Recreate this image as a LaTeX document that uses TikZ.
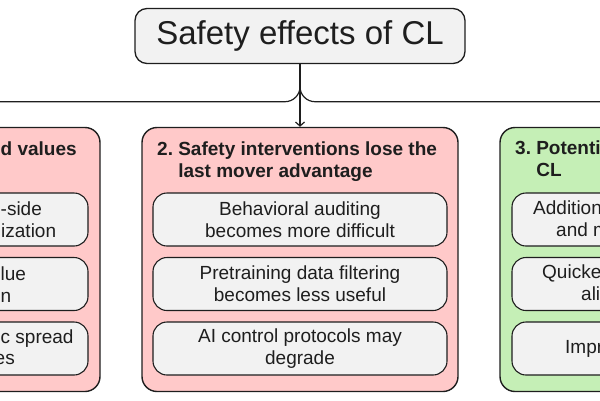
\documentclass[tikz,border=0pt]{standalone}
\usepackage{fontspec}
\setmainfont{Liberation Sans}
\usetikzlibrary{arrows.meta,positioning}
\definecolor{boxgray}{HTML}{F2F2F2}
\definecolor{riskpink}{HTML}{FFC9C9}
\definecolor{gainlime}{HTML}{C5EFB6}
\definecolor{inkline}{HTML}{1E1E1E}
\tikzset{
  sfx/.style={x=1pt, y=-1pt, >={Straight Barb[length=4pt,width=9pt]},
              every node/.style={inner sep=0pt, text=inkline, font=\fontsize{19}{22}\selectfont}},
  rootbox/.style={draw=inkline, line width=1.3pt, rounded corners=12pt, fill=boxgray,
                  minimum width=330pt, minimum height=55pt, font=\fontsize{33}{38}\selectfont},
  group/.style={draw=inkline, line width=1.4pt, rounded corners=15pt, minimum width=316pt, minimum height=264pt},
  item/.style={draw=inkline, line width=1.1pt, rounded corners=14pt, fill=boxgray,
               minimum width=294pt, minimum height=53pt, align=center},
  gtitle/.style={anchor=base west, font=\fontsize{19}{22}\selectfont\bfseries},
  cutl/.style={anchor=base east},
  cutr/.style={anchor=base west},
  link/.style={->, draw=inkline, line width=1.2pt, rounded corners=15pt}
}

\begin{document}
\begin{tikzpicture}[sfx]
\useasboundingbox (0,0) rectangle (600,400);
\clip (0,0) rectangle (600,400);

\node[rootbox] (root) at (300,36) {Safety effects of CL};

% the three groups
\node[group, fill=riskpink] (g1) at (-58,259.5) {};
\node[group, fill=riskpink] (g2) at (300,259.5) {};
\node[group, fill=gainlime] (g3) at (658,259.5) {};

\node[gtitle] (t1) at (0.5,155) {d values};
\node[gtitle] (t2) at (157,155) {2.\ \begin{tabular}[t]{@{}l@{}}Safety interventions lose the\\last mover advantage\end{tabular}};
\node[gtitle] (t3) at (515,154) {3.\ \begin{tabular}[t]{@{}l@{}}Potenti\\CL\end{tabular}};

% left column (cut by the frame)
\node[item] (l1) at (-59,219.5) {};
\node[item] (l2) at (-59,284) {};
\node[item] (l3) at (-59,348.5) {};
\node[cutr] (l1a) at (0.5,215) {-side};
\node[cutr] (l1b) at (1,237) {ization};
\node[cutr] (l2a) at (0.5,280) {lue};
\node[cutr] (l2b) at (0.5,302) {n};
\node[cutr] (l3a) at (0.5,343) {c spread};
\node[cutl] (l3b) at (15,364) {es};

% middle column
\node[item] (m1) at (300,219.5) {Behavioral auditing\\becomes more difficult};
\node[item] (m2) at (300,284) {Pretraining data filtering\\becomes less useful};
\node[item] (m3) at (300,348.5) {AI control protocols may\\degrade};

% right column (cut by the frame)
\node[item] (r1) at (659,219.5) {};
\node[item] (r2) at (659,284) {};
\node[item] (r3) at (659,348.5) {};
\node[cutr] (r1a) at (533,214) {Addition};
\node[cutr] (r1b) at (556,236) {and m};
\node[cutr] (r2a) at (542,278) {Quicke};
\node[cutr] (r2b) at (581,300) {ali};
\node[cutr] (r3a) at (565,353) {Impr};

% connectors
\coordinate (fork) at (300,101.7);
\draw[link] (root.south) |- (fork -| g1.north) -- (g1.north);
\draw[link] (root.south) |- (fork -| g3.north) -- (g3.north);
\draw[link] (root.south) -- (g2.north);
\end{tikzpicture}
\end{document}
